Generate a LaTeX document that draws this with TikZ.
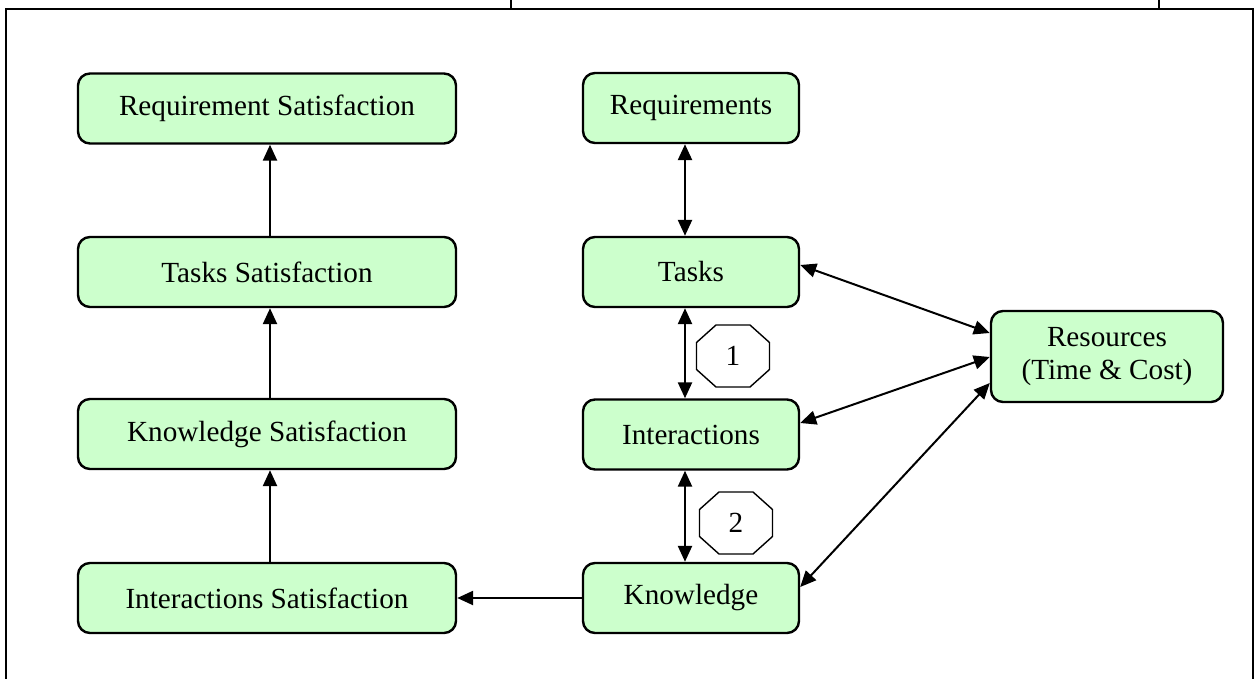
\documentclass[tikz,border=0pt]{standalone}
\usepackage{fontspec}
\setmainfont{Liberation Serif}
\usetikzlibrary{arrows.meta,calc}
\begin{document}
\begin{tikzpicture}[x=1pt,y=-1pt,
  box/.style={draw=black, line width=2.4pt, fill=green!20!white, fill={rgb,255:red,204;green,255;blue,204},
    rounded corners=12pt, minimum height=70pt, inner sep=0pt, align=center,
    font=\fontsize{29.2}{33}\selectfont},
  lbox/.style={box, minimum width=378pt},
  mbox/.style={box, minimum width=216pt},
  conn/.style={line width=2.4pt, -{Triangle[length=16pt,width=14pt]}},
  bconn/.style={line width=2.4pt, {Triangle[length=16pt,width=14pt]}-{Triangle[length=16pt,width=14pt]}},
  dconn/.style={line width=2pt, {Triangle[length=16pt,width=14pt]}-{Triangle[length=16pt,width=14pt]}},
  num/.style={font=\fontsize{29.2}{33}\selectfont, inner sep=0pt},
  octo/.style={draw=black, line width=1.4pt, fill=white},
  frame/.style={line width=2.2pt}
]
\useasboundingbox (0,0) rectangle (1256,679);
% frame
\draw[frame] (6,679) -- (6,9) -- (1253,9) -- (1253,679);
\draw[frame] (511,0) -- (511,9);
\draw[frame] (1159,0) -- (1159,9);

% left column
\node[lbox] (RS) at (267,108.5) {Requirement Satisfaction};
\node[lbox] (TS) at (267,272) {Tasks Satisfaction};
\node[lbox] (KS) at (267,434) {Knowledge Satisfaction};
\node[lbox] (IS) at (267,598) {Interactions Satisfaction};

% middle column
\node[mbox] (Rq) at (691,108) {Requirements};
\node[mbox] (Tk) at (691,272) {Tasks};
\node[mbox] (In) at (691,434.5) {Interactions};
\node[mbox] (Kn) at (691,598) {Knowledge};

% resources
\node[box, minimum width=232pt, minimum height=91pt] (Rs) at (1107,356.5) {Resources\\(Time \& Cost)};

% octagons
\foreach \n/\cx/\cy in {1/733/356, 2/736/523} {
  \node[num] (oct\n) at (\cx,\cy) {\n};
  \draw[octo] ($(oct\n)+(-17,-31)$) -- ($(oct\n)+(17,-31)$) -- ($(oct\n)+(36.5,-13.5)$) -- ($(oct\n)+(36.5,13.5)$)
     -- ($(oct\n)+(17,31)$) -- ($(oct\n)+(-17,31)$) -- ($(oct\n)+(-36.5,13.5)$) -- ($(oct\n)+(-36.5,-13.5)$) -- cycle;
  \node[num] at (oct\n) {\n};
}

% left column arrows
\draw[conn] ([xshift=3pt]TS.north) -- ([xshift=3pt]RS.south);
\draw[conn] ([xshift=3pt]KS.north) -- ([xshift=3pt]TS.south);
\draw[conn] ([xshift=3pt]IS.north) -- ([xshift=3pt]KS.south);
\draw[conn] (Kn.west) -- (IS.east);

% middle column arrows
\draw[bconn] ([xshift=-6pt]Rq.south) -- ([xshift=-6pt]Tk.north);
\draw[bconn] ([xshift=-6pt]Tk.south) -- ([xshift=-6pt]In.north);
\draw[bconn] ([xshift=-6pt]In.south) -- ([xshift=-6pt]Kn.north);

% resources arrows
\draw[dconn] ($(Tk.east)+(0,-7)$) -- ($(Rs.west)+(0,-23.5)$);
\draw[dconn] ($(In.east)+(0,-11.5)$) -- ($(Rs.west)+(0,0.5)$);
\draw[dconn] ($(Kn.east)+(0,-11)$) -- ($(Rs.west)+(0,26.5)$);
\end{tikzpicture}
\end{document}
